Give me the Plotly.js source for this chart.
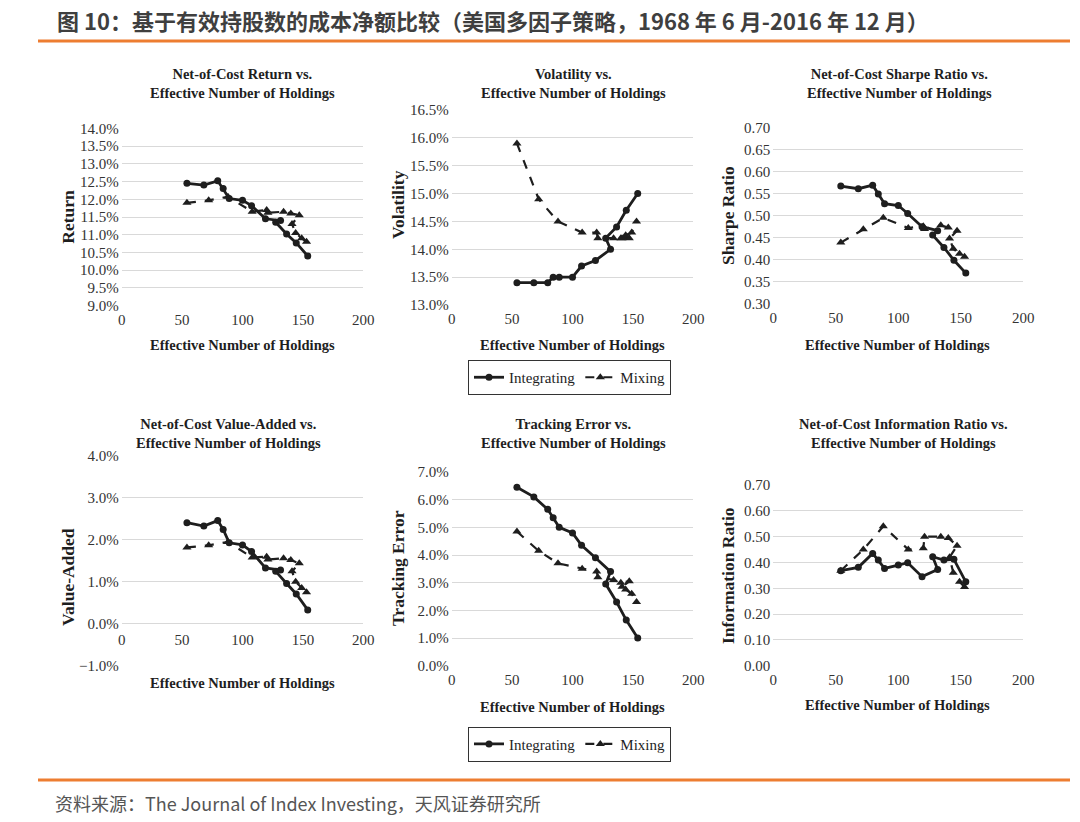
<!DOCTYPE html>
<html>
<head>
<meta charset="utf-8">
<script src="https://cdn.plot.ly/plotly-3.0.1.min.js"></script>
<style>
  html, body { margin: 0; padding: 0; background: #ffffff; }
  #chart { width: 1080px; height: 822px; }
</style>
</head>
<body>
<div id="chart"></div>
<script>
// ---------------- DATA ----------------
const seriesNames = ["Integrating", "Mixing"];
const holdingsIntegrating = [54, 68, 79.5, 84, 89, 100, 107.5, 119, 131.5, 127.5, 136.5, 144.5, 154];
const holdingsMixing      = [54, 72, 88, 108, 120, 121, 134, 140, 147, 141, 144, 149, 153];

const returnIntegrating = [12.45, 12.40, 12.52, 12.30, 12.02, 11.97, 11.82, 11.45, 11.40, 11.35, 11.02, 10.77, 10.40];
const returnMixing      = [11.90, 11.97, 12.07, 11.65, 11.70, 11.62, 11.65, 11.60, 11.55, 11.30, 11.05, 10.90, 10.80];

const volIntegrating = [13.4, 13.4, 13.4, 13.5, 13.5, 13.5, 13.7, 13.8, 14.0, 14.2, 14.4, 14.7, 15.0];
const volMixing      = [15.9, 14.9, 14.5, 14.3, 14.3, 14.2, 14.2, 14.2, 14.2, 14.2, 14.25, 14.3, 14.5];

const sharpeIntegrating = [0.567, 0.561, 0.569, 0.549, 0.527, 0.523, 0.505, 0.475, 0.466, 0.456, 0.428, 0.399, 0.370];
const sharpeMixing      = [0.439, 0.469, 0.495, 0.472, 0.476, 0.470, 0.478, 0.473, 0.466, 0.448, 0.425, 0.414, 0.407];

const vaIntegrating = [2.41, 2.33, 2.46, 2.25, 1.93, 1.88, 1.72, 1.33, 1.28, 1.25, 0.96, 0.71, 0.33];
const vaMixing      = [1.82, 1.87, 1.95, 1.58, 1.60, 1.53, 1.56, 1.52, 1.44, 1.25, 1.00, 0.85, 0.75];

const teIntegrating = [6.45, 6.10, 5.65, 5.35, 5.00, 4.80, 4.35, 3.90, 3.40, 2.95, 2.30, 1.65, 1.00];
const teMixing      = [4.85, 4.15, 3.70, 3.50, 3.40, 3.20, 3.10, 3.00, 3.05, 2.85, 2.75, 2.60, 2.30];

const irIntegrating = [0.368, 0.381, 0.435, 0.409, 0.377, 0.390, 0.399, 0.345, 0.373, 0.422, 0.409, 0.412, 0.325];
const irMixing      = [0.368, 0.450, 0.540, 0.450, 0.455, 0.500, 0.500, 0.495, 0.465, 0.420, 0.360, 0.325, 0.305];

const panelTitles = [
  "Net-of-Cost Return vs.<br>Effective Number of Holdings",
  "Volatility vs.<br>Effective Number of Holdings",
  "Net-of-Cost Sharpe Ratio vs.<br>Effective Number of Holdings",
  "Net-of-Cost Value-Added vs.<br>Effective Number of Holdings",
  "Tracking Error vs.<br>Effective Number of Holdings",
  "Net-of-Cost Information Ratio vs.<br>Effective Number of Holdings"
];
const yTitles = ["Return", "Volatility", "Sharpe Ratio", "Value-Added", "Tracking Error", "Information Ratio"];
const xTitle = "Effective Number of Holdings";
const headerText = "图 10：基于有效持股数的成本净额比较（美国多因子策略，1968 年 6 月-2016 年 12 月）";
const sourceText = "资料来源：The Journal of Index Investing，天风证券研究所";

// ---------------- LAYOUT HELPERS ----------------
const W = 1080, H = 822;
const fx = p => p / W;
const fy = p => 1 - p / H;

const serif = "Liberation Serif, Times New Roman, serif";
const ink = "#1e1e1e";
const tickColor = "#333333";

// panel geometry in pixels
const panels = [
  {l:121.7, r:363.3, t:128.3, b:305.7, yr:[9,14],    dt:0.5,  fmt:".1f", suf:"%", tx:242.5, ty:83,  xtx:242.5, xty:345, ytx:68,  yty:216.7, ys:[returnIntegrating, returnMixing]},
  {l:451.7, r:693.3, t:110,   b:305,   yr:[13,16.5], dt:0.5,  fmt:".1f", suf:"%", tx:573,   ty:83,  xtx:572.5, xty:345, ytx:398, yty:205,   ys:[volIntegrating, volMixing]},
  {l:773.3, r:1023.3,t:127.3, b:304,   yr:[0.3,0.7], dt:0.05, fmt:".2f", suf:"",  tx:899,   ty:83,  xtx:897.5, xty:345, ytx:728, yty:216,   ys:[sharpeIntegrating, sharpeMixing]},
  {l:121.7, r:363.3, t:456,   b:665.7, yr:[-1,4],    dt:1,    fmt:".1f", suf:"%", tx:228,   ty:433, xtx:242.5, xty:683.3, ytx:68, yty:577, ys:[vaIntegrating, vaMixing], cross0:true},
  {l:451.7, r:693.3, t:472,   b:665.7, yr:[0,7],     dt:1,    fmt:".1f", suf:"%", tx:573,   ty:433, xtx:572.5, xty:706.7, ytx:398, yty:568, ys:[teIntegrating, teMixing]},
  {l:773.3, r:1023.3,t:485,   b:665.7, yr:[0,0.7],   dt:0.1,  fmt:".2f", suf:"",  tx:903,   ty:433, xtx:897.5, xty:705, ytx:728, yty:576,   ys:[irIntegrating, irMixing]}
];

const data = [];
const legendBase = {
  xanchor: "left", yanchor: "top",
  orientation: "h", bgcolor: "#ffffff", bordercolor: "#333333", borderwidth: 1,
  font: {family: serif, size: 15, color: ink}, itemwidth: 30, tracegroupgap: 0
};
const layout = {
  width: W, height: H,
  margin: {l:0, r:0, t:0, b:0},
  paper_bgcolor: "#ffffff",
  plot_bgcolor: "rgba(0,0,0,0)",
  font: {family: serif, size: 15, color: tickColor},
  annotations: [],
  shapes: [],
  legend: Object.assign({x: fx(468), y: fy(360)}, legendBase),
  legend2: Object.assign({x: fx(468), y: fy(726.7)}, legendBase)
};

panels.forEach((p, i) => {
  const n = i + 1;
  const xa = "x" + n, ya = "y" + n;
  const xk = "xaxis" + (n === 1 ? "" : n), yk = "yaxis" + (n === 1 ? "" : n);
  const legendRef = (n === 2) ? "legend" : (n === 5 ? "legend2" : null);

  data.push({
    type: "scatter", mode: "lines+markers", name: seriesNames[0],
    x: holdingsIntegrating, y: p.ys[0], xaxis: xa, yaxis: ya,
    line: {color: ink, width: 2.8},
    marker: {symbol: "circle", size: 7, color: ink},
    showlegend: legendRef !== null, legend: legendRef || "legend",
    hoverinfo: "skip"
  });
  data.push({
    type: "scatter", mode: "lines+markers", name: seriesNames[1],
    x: holdingsMixing, y: p.ys[1], xaxis: xa, yaxis: ya,
    line: {color: ink, width: 2.2, dash: "dash"},
    marker: {symbol: "triangle-up", size: 8, color: ink},
    showlegend: legendRef !== null, legend: legendRef || "legend",
    hoverinfo: "skip"
  });

  const yDomain = [fy(p.b), fy(p.t)];
  const xaxis = {
    domain: [fx(p.l), fx(p.r)], range: [0, 200], dtick: 50, tick0: 0,
    showgrid: false, zeroline: false, showline: false, ticks: "",
    ticklabelstandoff: 3,
    tickfont: {family: serif, size: 15, color: tickColor},
    anchor: ya, fixedrange: true
  };
  if (p.cross0) {
    const frac = (0 - p.yr[0]) / (p.yr[1] - p.yr[0]);
    xaxis.anchor = "free";
    xaxis.position = yDomain[0] + frac * (yDomain[1] - yDomain[0]);
    xaxis.ticklabelstandoff = 5;
  }
  layout[xk] = xaxis;
  layout[yk] = {
    domain: yDomain, range: p.yr, dtick: p.dt, tick0: p.yr[0],
    tickformat: p.fmt, ticksuffix: p.suf,
    showgrid: true, gridcolor: "#d9d9d9", gridwidth: 1,
    zeroline: false, showline: false, ticks: "",
    ticklabelstandoff: 2,
    tickfont: {family: serif, size: 15, color: tickColor},
    anchor: xa, fixedrange: true
  };

  layout.annotations.push({
    text: "<b>" + panelTitles[i] + "</b>", xref: "paper", yref: "paper",
    x: fx(p.tx), y: fy(p.ty), xanchor: "center", yanchor: "middle",
    showarrow: false, font: {family: serif, size: 14.5, color: ink}
  });
  layout.annotations.push({
    text: "<b>" + xTitle + "</b>", xref: "paper", yref: "paper",
    x: fx(p.xtx), y: fy(p.xty), xanchor: "center", yanchor: "middle",
    showarrow: false, font: {family: serif, size: 14.5, color: ink}
  });
  layout.annotations.push({
    text: "<b>" + yTitles[i] + "</b>", xref: "paper", yref: "paper",
    x: fx(p.ytx), y: fy(p.yty), xanchor: "center", yanchor: "middle",
    textangle: -90, showarrow: false, font: {family: serif, size: 17.5, color: ink}
  });
});

// header & footer
layout.annotations.push({
  text: "<b>" + headerText + "</b>", xref: "paper", yref: "paper",
  x: fx(55), y: fy(20), xanchor: "left", yanchor: "middle", showarrow: false,
  font: {family: "Noto Sans CJK SC, Noto Sans, sans-serif", size: 22, color: "#3f3f3f"}
});
layout.annotations.push({
  text: sourceText, xref: "paper", yref: "paper",
  x: fx(53), y: fy(803), xanchor: "left", yanchor: "middle", showarrow: false,
  font: {family: "Noto Sans CJK SC, Noto Sans, sans-serif", size: 18, color: "#555555"}
});
layout.shapes.push({type: "line", xref: "paper", yref: "paper",
  x0: fx(38), x1: fx(1070), y0: fy(41), y1: fy(41), line: {color: "#ED7D31", width: 3}});
layout.shapes.push({type: "line", xref: "paper", yref: "paper",
  x0: fx(38), x1: fx(1070), y0: fy(780), y1: fy(780), line: {color: "#ED7D31", width: 3}});

Plotly.newPlot("chart", data, layout, {displayModeBar: false, staticPlot: true});
</script>
</body>
</html>
